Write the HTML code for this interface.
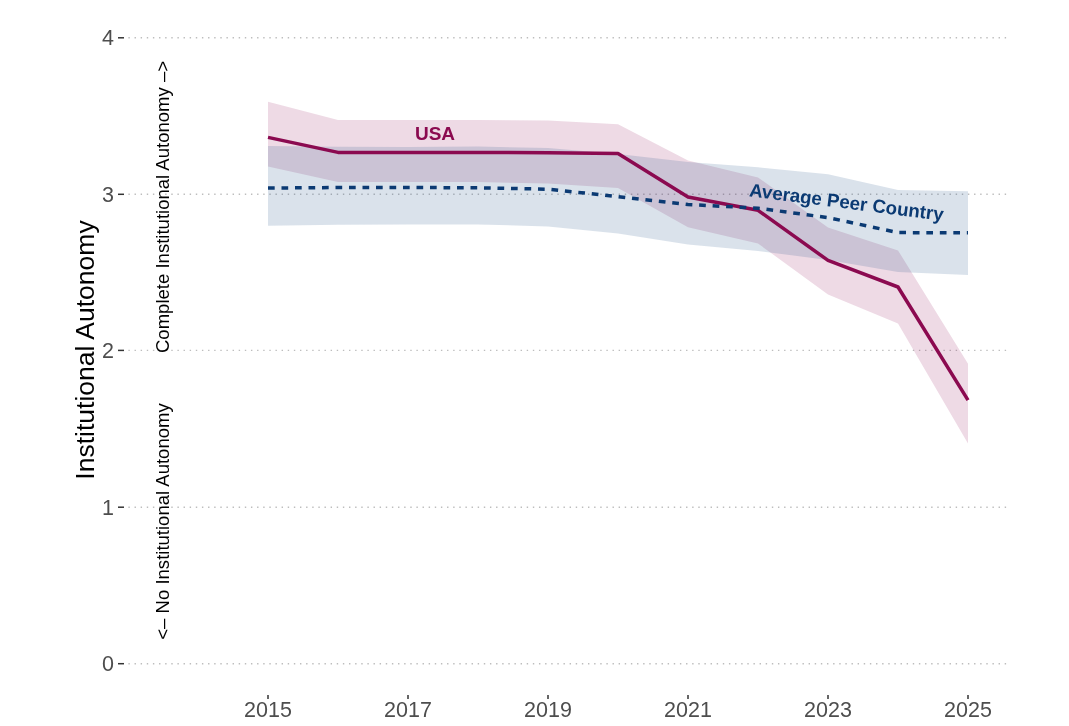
<!DOCTYPE html>
<html><head><meta charset="utf-8"><style>
html,body{margin:0;padding:0;background:#fff;}
svg{display:block;font-family:"Liberation Sans",sans-serif;will-change:transform;}
</style></head><body>
<svg width="1069" height="726" viewBox="0 0 1069 726">
<rect width="1069" height="726" fill="#fff"/>
<line x1="128.4" y1="37.8" x2="1006.2" y2="37.8" stroke="#bdbdbd" stroke-width="1.4" stroke-dasharray="1.4 4.728"/>
<line x1="118" y1="37.8" x2="124" y2="37.8" stroke="#333" stroke-width="1.5"/>
<text x="114" y="45.3" text-anchor="end" font-size="21.5" fill="#4d4d4d">4</text>
<line x1="128.4" y1="194.3" x2="1006.2" y2="194.3" stroke="#bdbdbd" stroke-width="1.4" stroke-dasharray="1.4 4.728"/>
<line x1="118" y1="194.3" x2="124" y2="194.3" stroke="#333" stroke-width="1.5"/>
<text x="114" y="201.8" text-anchor="end" font-size="21.5" fill="#4d4d4d">3</text>
<line x1="128.4" y1="350.4" x2="1006.2" y2="350.4" stroke="#bdbdbd" stroke-width="1.4" stroke-dasharray="1.4 4.728"/>
<line x1="118" y1="350.4" x2="124" y2="350.4" stroke="#333" stroke-width="1.5"/>
<text x="114" y="357.9" text-anchor="end" font-size="21.5" fill="#4d4d4d">2</text>
<line x1="128.4" y1="507.2" x2="1006.2" y2="507.2" stroke="#bdbdbd" stroke-width="1.4" stroke-dasharray="1.4 4.728"/>
<line x1="118" y1="507.2" x2="124" y2="507.2" stroke="#333" stroke-width="1.5"/>
<text x="114" y="514.7" text-anchor="end" font-size="21.5" fill="#4d4d4d">1</text>
<line x1="128.4" y1="663.7" x2="1006.2" y2="663.7" stroke="#bdbdbd" stroke-width="1.4" stroke-dasharray="1.4 4.728"/>
<line x1="118" y1="663.7" x2="124" y2="663.7" stroke="#333" stroke-width="1.5"/>
<text x="114" y="671.2" text-anchor="end" font-size="21.5" fill="#4d4d4d">0</text>
<line x1="268" y1="695" x2="268" y2="699" stroke="#333" stroke-width="1.5"/>
<text x="268" y="717" text-anchor="middle" font-size="21.5" fill="#4d4d4d">2015</text>
<line x1="408" y1="695" x2="408" y2="699" stroke="#333" stroke-width="1.5"/>
<text x="408" y="717" text-anchor="middle" font-size="21.5" fill="#4d4d4d">2017</text>
<line x1="548" y1="695" x2="548" y2="699" stroke="#333" stroke-width="1.5"/>
<text x="548" y="717" text-anchor="middle" font-size="21.5" fill="#4d4d4d">2019</text>
<line x1="688" y1="695" x2="688" y2="699" stroke="#333" stroke-width="1.5"/>
<text x="688" y="717" text-anchor="middle" font-size="21.5" fill="#4d4d4d">2021</text>
<line x1="828" y1="695" x2="828" y2="699" stroke="#333" stroke-width="1.5"/>
<text x="828" y="717" text-anchor="middle" font-size="21.5" fill="#4d4d4d">2023</text>
<line x1="968" y1="695" x2="968" y2="699" stroke="#333" stroke-width="1.5"/>
<text x="968" y="717" text-anchor="middle" font-size="21.5" fill="#4d4d4d">2025</text>
<polygon points="268,101.8 338,119.9 408,120 478,119.9 548,120.5 618,124.25 688,160.5 758,177.5 828,227.5 898,250.4 968,363.8 968,443.6 898,323.5 828,294.4 758,243.5 688,227.3 618,188 548,183.6 478,181.9 408,182.1 338,182 268,166.6" fill="#8b0a50" fill-opacity="0.15"/>
<polygon points="268,146 338,146.7 408,147 478,146.5 548,148 618,154 688,162 758,167.3 828,174.3 898,190 968,191.2 968,275 898,272.1 828,260 758,250.9 688,244.6 618,233.6 548,226.4 478,224.5 408,224.5 338,224.7 268,225.7" fill="#1a4a85" fill-opacity="0.16"/>
<polyline points="268,137.4 338,152.4 408,152.4 478,152.4 548,152.8 618,153.5 688,197 758,210.3 828,260.4 898,287 968,400.2" fill="none" stroke="#8b0a50" stroke-width="3.5" stroke-linejoin="round"/>
<polyline points="268,188.1 338,187.5 408,187.5 478,187.8 548,189.2 618,196.6 688,204.5 758,208.2 828,217.6 898,232.6 968,232.8" fill="none" stroke="#0b3a73" stroke-width="3.5" stroke-dasharray="6.7 6.8"/>
<text x="435" y="140" text-anchor="middle" font-size="19" font-weight="bold" fill="#8b0a50">USA</text>
<text transform="translate(845.7,208.5) rotate(7.2)" text-anchor="middle" font-size="18.7" font-weight="bold" fill="#0b3a73">Average Peer Country</text>
<text transform="translate(94.3,350) rotate(-90)" text-anchor="middle" font-size="26.5" fill="#000">Institutional Autonomy</text>
<text transform="translate(168.9,207) rotate(-90)" text-anchor="middle" font-size="18.55" fill="#000">Complete Institutional Autonomy –&gt;</text>
<text transform="translate(168.9,521.5) rotate(-90)" text-anchor="middle" font-size="18.55" fill="#000">&lt;– No Institutional Autonomy</text>
</svg></body></html>
